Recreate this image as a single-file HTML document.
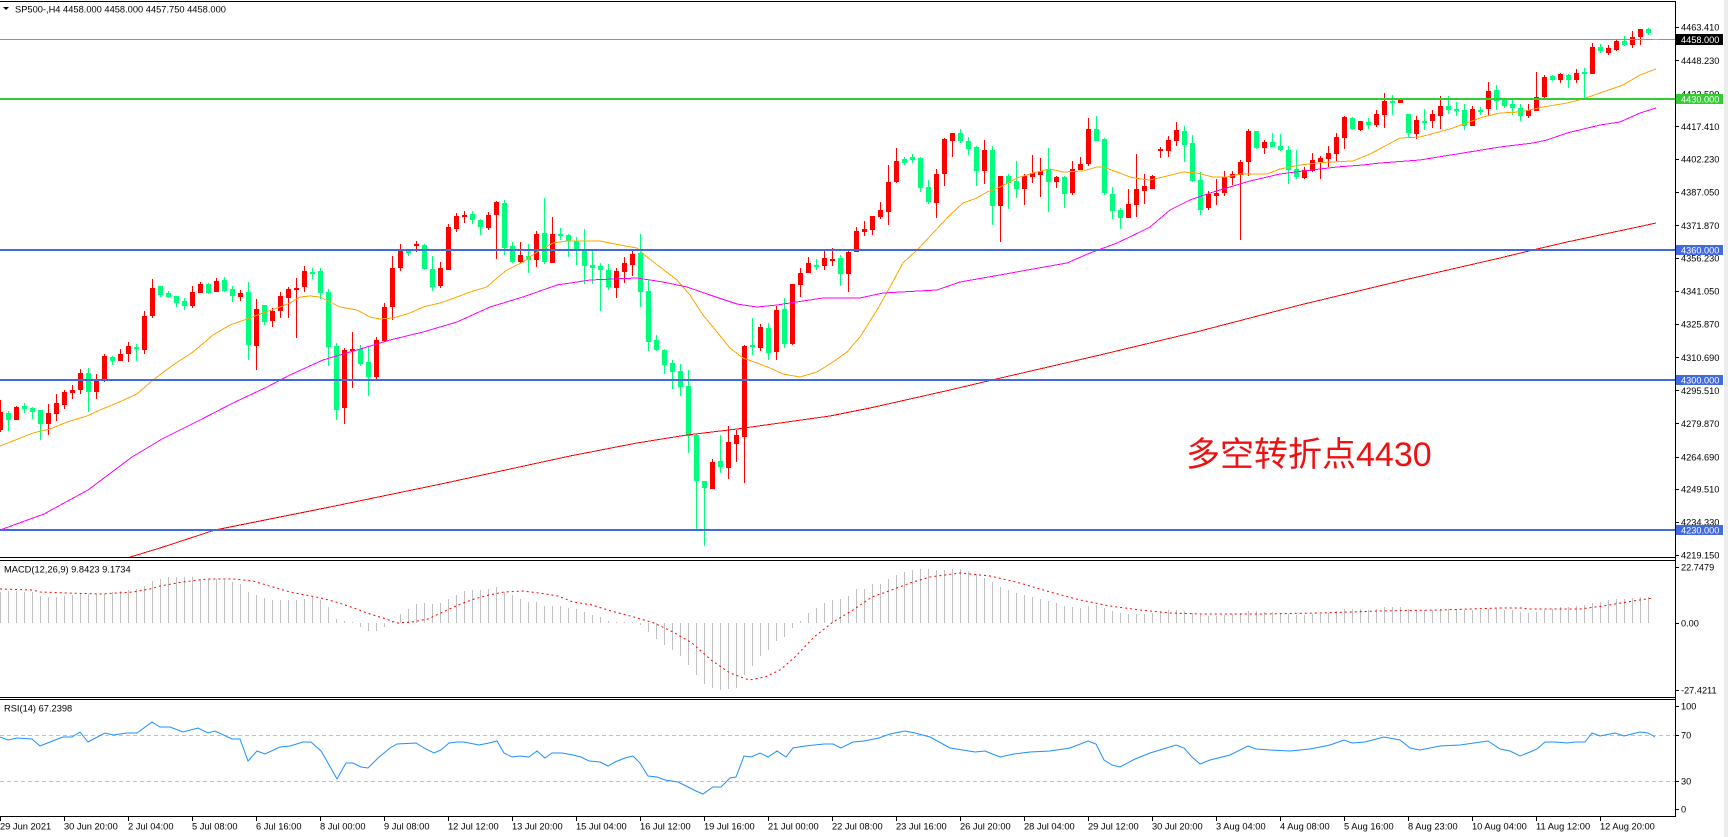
<!DOCTYPE html>
<html><head><meta charset="utf-8">
<style>
html,body{margin:0;padding:0;background:#fff;}
body{width:1728px;height:837px;overflow:hidden;}
svg{display:block;}
text{font-family:"Liberation Sans","Noto Sans CJK SC",sans-serif;}
</style></head>
<body>
<svg width="1728" height="837" viewBox="0 0 1728 837" xmlns="http://www.w3.org/2000/svg">
<defs>
<clipPath id="cm"><rect x="0" y="2" width="1675" height="555"/></clipPath>
<clipPath id="cmacd"><rect x="0" y="561" width="1675" height="135"/></clipPath>
<clipPath id="crsi"><rect x="0" y="700" width="1675" height="116"/></clipPath>
</defs>
<rect width="1728" height="837" fill="#fff"/>
<rect x="1724" y="0" width="4" height="837" fill="#ececec"/>

<!-- header -->
<polygon points="3,7 9,7 6,10" fill="#000"/>
<text x="15" y="12.6" font-size="9.3px" fill="#000">SP500-,H4  4458.000 4458.000 4457.750 4458.000</text>

<g clip-path="url(#cm)" shape-rendering="crispEdges">
<!-- red candles -->
<path fill="#ff0000" d="M-2 412h5v18h-5zM0 400h1v32h-1zM14 407h5v13h-5zM16 406h1v14h-1zM46 413h5v11h-5zM48 404h1v31h-1zM54 403h5v11h-5zM56 394h1v27h-1zM62 392h5v13h-5zM64 390h1v19h-1zM70 390h5v3h-5zM72 385h1v14h-1zM78 373h5v17h-5zM80 369h1v25h-1zM94 380h5v12h-5zM96 374h1v25h-1zM102 356h5v24h-5zM104 354h1v28h-1zM118 354h5v7h-5zM120 349h1v12h-1zM126 346h5v8h-5zM128 342h1v20h-1zM142 316h5v34h-5zM144 311h1v43h-1zM150 288h5v28h-5zM152 279h1v39h-1zM190 292h5v14h-5zM192 286h1v22h-1zM198 284h5v9h-5zM200 282h1v11h-1zM214 281h5v11h-5zM216 278h1v14h-1zM238 293h5v4h-5zM240 290h1v11h-1zM254 309h5v37h-5zM256 299h1v71h-1zM270 311h5v10h-5zM272 308h1v19h-1zM278 296h5v15h-5zM280 292h1v26h-1zM286 289h5v9h-5zM288 287h1v31h-1zM294 288h5v2h-5zM296 278h1v60h-1zM302 271h5v16h-5zM304 266h1v26h-1zM342 350h5v58h-5zM344 348h1v76h-1zM350 349h5v2h-5zM352 332h1v56h-1zM374 340h5v37h-5zM376 337h1v42h-1zM382 307h5v34h-5zM384 303h1v38h-1zM390 268h5v39h-5zM392 256h1v64h-1zM398 250h5v18h-5zM400 244h1v27h-1zM414 244h5v2h-5zM416 241h1v11h-1zM438 268h5v18h-5zM440 262h1v26h-1zM446 227h5v43h-5zM448 224h1v46h-1zM454 216h5v13h-5zM456 213h1v19h-1zM462 215h5v2h-5zM464 211h1v12h-1zM486 215h5v13h-5zM488 212h1v18h-1zM494 202h5v13h-5zM496 201h1v58h-1zM518 255h5v7h-5zM520 242h1v21h-1zM534 234h5v26h-5zM536 231h1v36h-1zM550 234h5v29h-5zM552 217h1v46h-1zM614 271h5v17h-5zM616 268h1v30h-1zM622 263h5v9h-5zM624 257h1v26h-1zM630 254h5v11h-5zM632 251h1v25h-1zM710 462h5v27h-5zM712 459h1v30h-1zM726 442h5v26h-5zM728 426h1v53h-1zM734 435h5v9h-5zM736 430h1v32h-1zM742 346h5v91h-5zM744 345h1v138h-1zM758 327h5v21h-5zM760 324h1v27h-1zM774 310h5v42h-5zM776 306h1v54h-1zM790 284h5v60h-5zM792 284h1v61h-1zM798 273h5v12h-5zM800 268h1v29h-1zM806 263h5v10h-5zM808 257h1v16h-1zM822 258h5v8h-5zM824 250h1v20h-1zM830 259h5v2h-5zM832 248h1v18h-1zM846 252h5v22h-5zM848 251h1v41h-1zM854 231h5v21h-5zM856 227h1v25h-1zM862 229h5v3h-5zM864 221h1v15h-1zM870 216h5v14h-5zM872 216h1v19h-1zM878 210h5v7h-5zM880 202h1v17h-1zM886 182h5v30h-5zM888 165h1v60h-1zM894 161h5v21h-5zM896 148h1v35h-1zM934 174h5v29h-5zM936 169h1v49h-1zM942 139h5v35h-5zM944 138h1v48h-1zM950 133h5v8h-5zM952 133h1v24h-1zM982 150h5v21h-5zM984 140h1v44h-1zM998 176h5v30h-5zM1000 176h1v66h-1zM1022 176h5v13h-5zM1024 174h1v31h-1zM1030 173h5v4h-5zM1032 155h1v28h-1zM1038 171h5v4h-5zM1040 158h1v39h-1zM1054 177h5v5h-5zM1056 176h1v12h-1zM1070 169h5v24h-5zM1072 161h1v34h-1zM1078 164h5v6h-5zM1080 157h1v13h-1zM1086 129h5v35h-5zM1088 118h1v48h-1zM1126 204h5v14h-5zM1128 189h1v29h-1zM1134 189h5v16h-5zM1136 154h1v63h-1zM1142 186h5v5h-5zM1144 174h1v30h-1zM1150 176h5v13h-5zM1152 175h1v14h-1zM1158 149h5v2h-5zM1160 147h1v11h-1zM1166 140h5v11h-5zM1168 136h1v21h-1zM1174 130h5v11h-5zM1176 122h1v24h-1zM1206 194h5v14h-5zM1208 191h1v19h-1zM1214 193h5v3h-5zM1216 179h1v26h-1zM1222 177h5v16h-5zM1224 171h1v25h-1zM1230 174h5v4h-5zM1232 171h1v14h-1zM1238 162h5v13h-5zM1240 160h1v80h-1zM1246 131h5v31h-5zM1248 129h1v47h-1zM1262 142h5v6h-5zM1264 140h1v14h-1zM1302 170h5v8h-5zM1304 167h1v12h-1zM1310 160h5v11h-5zM1312 153h1v19h-1zM1318 158h5v4h-5zM1320 156h1v23h-1zM1326 153h5v6h-5zM1328 146h1v21h-1zM1334 137h5v17h-5zM1336 133h1v29h-1zM1342 117h5v21h-5zM1344 116h1v33h-1zM1358 121h5v9h-5zM1360 121h1v10h-1zM1374 114h5v11h-5zM1376 110h1v17h-1zM1382 101h5v14h-5zM1384 93h1v35h-1zM1398 100h5v3h-5zM1400 99h1v4h-1zM1414 120h5v14h-5zM1416 116h1v23h-1zM1430 114h5v7h-5zM1432 110h1v18h-1zM1438 106h5v10h-5zM1440 96h1v33h-1zM1470 109h5v17h-5zM1472 106h1v20h-1zM1486 91h5v18h-5zM1488 82h1v34h-1zM1526 110h5v6h-5zM1528 104h1v14h-1zM1534 97h5v14h-5zM1536 72h1v39h-1zM1542 77h5v20h-5zM1544 75h1v23h-1zM1558 74h5v6h-5zM1560 73h1v10h-1zM1574 73h5v7h-5zM1576 69h1v14h-1zM1590 47h5v27h-5zM1592 43h1v31h-1zM1606 48h5v5h-5zM1608 45h1v10h-1zM1614 41h5v9h-5zM1616 39h1v12h-1zM1630 37h5v8h-5zM1632 31h1v17h-1zM1638 29h5v8h-5zM1640 29h1v16h-1z"/>
<!-- green candles -->
<path fill="#00ff7f" d="M6 413h5v7h-5zM8 411h1v20h-1zM22 406h5v3h-5zM24 403h1v10h-1zM30 408h5v4h-5zM32 407h1v12h-1zM38 410h5v14h-5zM40 410h1v30h-1zM86 373h5v19h-5zM88 368h1v44h-1zM110 357h5v4h-5zM112 356h1v9h-1zM134 347h5v2h-5zM136 344h1v17h-1zM158 286h5v9h-5zM160 286h1v11h-1zM166 293h5v4h-5zM168 291h1v7h-1zM174 296h5v7h-5zM176 296h1v11h-1zM182 301h5v5h-5zM184 298h1v12h-1zM206 284h5v9h-5zM208 283h1v11h-1zM222 280h5v11h-5zM224 277h1v15h-1zM230 289h5v7h-5zM232 286h1v16h-1zM246 292h5v53h-5zM248 282h1v78h-1zM262 305h5v17h-5zM264 305h1v20h-1zM310 272h5v2h-5zM312 268h1v11h-1zM318 271h5v22h-5zM320 268h1v31h-1zM326 292h5v55h-5zM328 289h1v77h-1zM334 346h5v64h-5zM336 343h1v77h-1zM358 349h5v15h-5zM360 345h1v21h-1zM366 362h5v15h-5zM368 347h1v49h-1zM406 250h5v3h-5zM408 249h1v7h-1zM422 245h5v24h-5zM424 244h1v26h-1zM430 269h5v18h-5zM432 256h1v35h-1zM470 214h5v6h-5zM472 211h1v13h-1zM478 220h5v7h-5zM480 219h1v16h-1zM502 203h5v45h-5zM504 200h1v55h-1zM510 246h5v16h-5zM512 242h1v21h-1zM526 256h5v4h-5zM528 244h1v29h-1zM542 233h5v29h-5zM544 198h1v66h-1zM558 234h5v2h-5zM560 228h1v12h-1zM566 235h5v6h-5zM568 234h1v23h-1zM574 241h5v9h-5zM576 237h1v28h-1zM582 250h5v16h-5zM584 229h1v55h-1zM590 265h5v3h-5zM592 250h1v34h-1zM598 266h5v4h-5zM600 263h1v48h-1zM606 270h5v17h-5zM608 264h1v26h-1zM638 253h5v39h-5zM640 234h1v73h-1zM646 291h5v51h-5zM648 280h1v71h-1zM654 340h5v10h-5zM656 335h1v16h-1zM662 350h5v15h-5zM664 349h1v25h-1zM670 363h5v9h-5zM672 360h1v29h-1zM678 371h5v16h-5zM680 364h1v32h-1zM686 386h5v50h-5zM688 370h1v83h-1zM694 435h5v46h-5zM696 434h1v96h-1zM702 481h5v7h-5zM704 481h1v65h-1zM718 461h5v6h-5zM720 435h1v38h-1zM750 345h5v2h-5zM752 318h1v37h-1zM766 328h5v25h-5zM768 323h1v37h-1zM782 309h5v35h-5zM784 298h1v50h-1zM814 265h5v2h-5zM816 259h1v11h-1zM838 258h5v16h-5zM840 255h1v31h-1zM902 159h5v4h-5zM904 157h1v8h-1zM910 157h5v3h-5zM912 154h1v9h-1zM918 158h5v30h-5zM920 157h1v35h-1zM926 187h5v15h-5zM928 180h1v24h-1zM958 133h5v8h-5zM960 129h1v14h-1zM966 141h5v8h-5zM968 137h1v18h-1zM974 147h5v24h-5zM976 146h1v40h-1zM990 150h5v56h-5zM992 146h1v79h-1zM1006 176h5v7h-5zM1008 174h1v35h-1zM1014 181h5v8h-5zM1016 161h1v37h-1zM1046 169h5v13h-5zM1048 148h1v64h-1zM1062 177h5v17h-5zM1064 176h1v32h-1zM1094 129h5v12h-5zM1096 116h1v25h-1zM1102 139h5v54h-5zM1104 138h1v57h-1zM1110 194h5v17h-5zM1112 187h1v32h-1zM1118 210h5v8h-5zM1120 208h1v21h-1zM1182 131h5v14h-5zM1184 126h1v36h-1zM1190 143h5v38h-5zM1192 135h1v47h-1zM1198 180h5v30h-5zM1200 172h1v43h-1zM1254 131h5v17h-5zM1256 131h1v18h-1zM1270 142h5v5h-5zM1272 133h1v14h-1zM1278 146h5v4h-5zM1280 134h1v17h-1zM1286 150h5v20h-5zM1288 146h1v38h-1zM1294 169h5v8h-5zM1296 150h1v29h-1zM1350 118h5v11h-5zM1352 117h1v13h-1zM1366 122h5v3h-5zM1368 118h1v11h-1zM1390 101h5v2h-5zM1392 95h1v20h-1zM1406 114h5v19h-5zM1408 114h1v23h-1zM1422 121h5v2h-5zM1424 109h1v21h-1zM1446 106h5v4h-5zM1448 96h1v18h-1zM1454 109h5v2h-5zM1456 102h1v14h-1zM1462 110h5v16h-5zM1464 104h1v26h-1zM1478 110h5v2h-5zM1480 107h1v8h-1zM1494 90h5v11h-5zM1496 85h1v25h-1zM1502 100h5v6h-5zM1504 98h1v10h-1zM1510 104h5v4h-5zM1512 99h1v16h-1zM1518 108h5v8h-5zM1520 104h1v17h-1zM1550 76h5v4h-5zM1552 75h1v6h-1zM1566 75h5v5h-5zM1568 74h1v14h-1zM1582 72h5v2h-5zM1584 68h1v31h-1zM1598 47h5v4h-5zM1600 44h1v9h-1zM1622 41h5v4h-5zM1624 36h1v10h-1zM1646 29h5v4h-5zM1648 28h1v7h-1z"/>

<!-- moving averages -->
<polyline fill="none" stroke="#ffa500" stroke-width="1" points="0,446 18,439 33,433 50,429 67,422 87,416 100,410 117,403 137,394 153,380 173,365 193,352 213,335 230,325 247,319 263,313 280,307 290,303 300,297 310,296 320,297 330,302 340,307 357,310 370,317 380,319 393,318 410,313 423,307 440,303 457,297 473,291 487,287 497,278 507,270 523,262 537,252 553,243 567,241 580,241 600,241 620,245 637,248 647,257 660,267 677,280 690,295 703,315 717,332 730,348 743,358 757,363 770,368 783,374 800,377 817,372 833,362 847,352 860,337 877,310 890,287 903,263 917,250 933,233 950,215 963,203 977,198 987,192 1000,187 1017,178 1033,173 1050,169 1063,172 1083,171 1097,167 1103,167 1117,172 1130,177 1140,179 1150,180 1163,177 1183,172 1197,173 1213,177 1227,177 1240,174 1253,174 1267,174 1280,169 1300,165 1317,163 1330,162 1353,161 1370,154 1387,145 1400,138 1420,137 1450,129 1483,117 1500,113 1520,112 1543,107 1567,103 1583,99 1600,93 1623,85 1640,75 1656,69"/>
<polyline fill="none" stroke="#ff00ff" stroke-width="1" points="0,530 44,514 88,490 132,457 162,439 200,420 233,403 267,387 290,375 323,360 357,350 390,340 423,332 457,322 490,307 523,297 557,285 590,280 637,278 663,282 687,287 710,295 737,304 757,307 777,305 803,301 823,298 860,298 883,293 937,290 960,282 1000,275 1033,269 1067,263 1090,253 1117,243 1140,232 1150,227 1170,210 1190,200 1210,193 1230,187 1250,181 1280,174 1303,171 1337,167 1363,165 1380,163 1420,160 1500,147 1533,143 1547,140 1567,133 1600,125 1620,122 1640,113 1656,108"/>
<polyline fill="none" stroke="#ff0000" stroke-width="1" points="124,559 127,558 160,548 215,530 330,507 441,484 570,456 637,443 687,435 737,429 787,422 830,416 870,408 910,399 950,390 992,380 1100,355 1200,331 1300,305 1400,281 1500,258 1537,249 1567,242 1600,235 1633,228 1656,223"/>

<!-- horizontal lines -->
<rect x="0" y="39" width="1675" height="1" fill="#8a929a"/>
<rect x="1653" y="39" width="6" height="1" fill="#00ff7f"/>
<rect x="0" y="98" width="1675" height="2" fill="#32cd32"/>
<rect x="0" y="249" width="1675" height="2" fill="#4169e1"/>
<rect x="0" y="379" width="1675" height="2" fill="#4169e1"/>
<rect x="0" y="529" width="1675" height="2" fill="#4169e1"/>
</g>

<!-- annotation -->
<text x="1186" y="466" font-size="34px" fill="#ee1111" font-family="'Liberation Sans','Noto Sans CJK SC',sans-serif">多空转折点4430</text>

<!-- frame lines -->
<g shape-rendering="crispEdges" fill="#000">
<rect x="0" y="1" width="1675" height="1"/>
<rect x="1675" y="1" width="1" height="816"/>
<rect x="0" y="557" width="1676" height="1"/>
<rect x="0" y="560" width="1676" height="1"/>
<rect x="0" y="697" width="1676" height="1"/>
<rect x="0" y="699" width="1676" height="1"/>
<rect x="0" y="816" width="1676" height="1"/>
</g>

<!-- right axis ticks -->
<path shape-rendering="crispEdges" stroke="#000" stroke-width="1" d="M1676 27.5h3M1676 60.5h3M1676 126.5h3M1676 159.5h3M1676 192.5h3M1676 225.5h3M1676 258.5h3M1676 291.5h3M1676 324.5h3M1676 357.5h3M1676 390.5h3M1676 423.5h3M1676 457.5h3M1676 489.5h3M1676 522.5h3M1676 555.5h3M1676 567.5h3M1676 623.5h3M1676 690.5h3M1676 706.5h3M1676 735.5h3M1676 781.5h3M1676 809.5h3"/>

<!-- right axis labels -->
<g font-size="9.2px" fill="#000">
<text x="1681" y="30.6">4463.410</text>
<text x="1681" y="64">4448.230</text>
<text x="1681" y="97.3">4432.590</text>
<text x="1681" y="130">4417.410</text>
<text x="1681" y="162.6">4402.230</text>
<text x="1681" y="195.6">4387.050</text>
<text x="1681" y="229">4371.870</text>
<text x="1681" y="261.6">4356.230</text>
<text x="1681" y="294.6">4341.050</text>
<text x="1681" y="327.6">4325.870</text>
<text x="1681" y="361">4310.690</text>
<text x="1681" y="394">4295.510</text>
<text x="1681" y="427">4279.870</text>
<text x="1681" y="460.3">4264.690</text>
<text x="1681" y="492.6">4249.510</text>
<text x="1681" y="525.6">4234.330</text>
<text x="1681" y="558.6">4219.150</text>
<text x="1681" y="570.5">22.7479</text>
<text x="1681" y="626.5">0.00</text>
<text x="1681" y="693.5">-27.4211</text>
<text x="1681" y="709.5">100</text>
<text x="1681" y="738.5">70</text>
<text x="1681" y="784.5">30</text>
<text x="1681" y="812.5">0</text>
</g>

<!-- price boxes -->
<g shape-rendering="crispEdges">
<rect x="1676" y="34" width="47" height="11" fill="#000"/>
<rect x="1676" y="94" width="47" height="10" fill="#32cd32"/>
<rect x="1676" y="245" width="47" height="10" fill="#4169e1"/>
<rect x="1676" y="375" width="47" height="10" fill="#4169e1"/>
<rect x="1676" y="525" width="47" height="10" fill="#4169e1"/>
</g>
<g font-size="9.2px" fill="#fff">
<text x="1681" y="42.8">4458.000</text>
<text x="1681" y="102.3">4430.000</text>
<text x="1681" y="253.3">4360.000</text>
<text x="1681" y="383.3">4300.000</text>
<text x="1681" y="533.3">4230.000</text>
</g>

<!-- MACD -->
<text x="4" y="572.5" font-size="9.3px" fill="#000">MACD(12,26,9) 9.8423 9.1734</text>
<g clip-path="url(#cmacd)">
<path shape-rendering="crispEdges" fill="none" stroke="#c0c0c0" stroke-width="1" d="M0.5 623V592M8.5 623V591M16.5 623V591M24.5 623V592M32.5 623V592M40.5 623V596M48.5 623V597M56.5 623V597M64.5 623V596M72.5 623V595M80.5 623V594M88.5 623V594M96.5 623V594M104.5 623V594M112.5 623V592M120.5 623V591M128.5 623V590M136.5 623V589M144.5 623V586M152.5 623V581M160.5 623V579M168.5 623V577M176.5 623V577M184.5 623V577M192.5 623V577M200.5 623V579M208.5 623V579M216.5 623V579M224.5 623V580M232.5 623V582M240.5 623V584M248.5 623V592M256.5 623V595M264.5 623V598M272.5 623V600M280.5 623V600M288.5 623V600M296.5 623V600M304.5 623V599M312.5 623V597M320.5 623V600M328.5 623V607M336.5 623V619M344.5 623V621M352.5 623V622M360.5 623V627M368.5 623V631M376.5 623V631M384.5 623V627M392.5 623V621M400.5 623V614M408.5 623V609M416.5 623V604M424.5 623V603M432.5 623V604M440.5 623V603M448.5 623V599M456.5 623V595M464.5 623V591M472.5 623V590M480.5 623V590M488.5 623V589M496.5 623V587M504.5 623V592M512.5 623V595M520.5 623V599M528.5 623V602M536.5 623V602M544.5 623V606M552.5 623V606M560.5 623V606M568.5 623V608M576.5 623V609M584.5 623V612M592.5 623V615M600.5 623V617M608.5 623V621M616.5 623V622M624.5 623V622M632.5 623V622M640.5 623V625M648.5 623V632M656.5 623V639M664.5 623V645M672.5 623V650M680.5 623V656M688.5 623V665M696.5 623V675M704.5 623V684M712.5 623V688M720.5 623V690M728.5 623V689M736.5 623V688M744.5 623V675M752.5 623V666M760.5 623V656M768.5 623V650M776.5 623V641M784.5 623V637M792.5 623V628M800.5 623V621M808.5 623V613M816.5 623V608M824.5 623V603M832.5 623V600M840.5 623V599M848.5 623V596M856.5 623V589M864.5 623V589M872.5 623V584M880.5 623V584M888.5 623V579M896.5 623V575M904.5 623V572M912.5 623V570M920.5 623V569M928.5 623V569M936.5 623V570M944.5 623V570M952.5 623V569M960.5 623V569M968.5 623V571M976.5 623V574M984.5 623V578M992.5 623V582M1000.5 623V587M1008.5 623V590M1016.5 623V593M1024.5 623V595M1032.5 623V597M1040.5 623V599M1048.5 623V601M1056.5 623V603M1064.5 623V606M1072.5 623V607M1080.5 623V608M1088.5 623V606M1096.5 623V605M1104.5 623V608M1112.5 623V611M1120.5 623V613M1128.5 623V614M1136.5 623V614M1144.5 623V614M1152.5 623V613M1160.5 623V611M1168.5 623V610M1176.5 623V610M1184.5 623V611M1192.5 623V613M1200.5 623V615M1208.5 623V616M1216.5 623V616M1224.5 623V615M1232.5 623V614M1240.5 623V613M1248.5 623V611M1256.5 623V611M1264.5 623V612M1272.5 623V612M1280.5 623V613M1288.5 623V614M1296.5 623V615M1304.5 623V615M1312.5 623V614M1320.5 623V614M1328.5 623V613M1336.5 623V611M1344.5 623V609M1352.5 623V609M1360.5 623V609M1368.5 623V610M1376.5 623V609M1384.5 623V607M1392.5 623V607M1400.5 623V607M1408.5 623V609M1416.5 623V610M1424.5 623V610M1432.5 623V610M1440.5 623V609M1448.5 623V609M1456.5 623V609M1464.5 623V610M1472.5 623V610M1480.5 623V610M1488.5 623V609M1496.5 623V609M1504.5 623V610M1512.5 623V610M1520.5 623V612M1528.5 623V613M1536.5 623V612M1544.5 623V610M1552.5 623V609M1560.5 623V607M1568.5 623V607M1576.5 623V606M1584.5 623V605M1592.5 623V603M1600.5 623V602M1608.5 623V600M1616.5 623V599M1624.5 623V599M1632.5 623V598M1640.5 623V597M1648.5 623V597"/>
<polyline fill="none" stroke="#ff0000" stroke-width="1" stroke-dasharray="2,3" points="0,589 33,590 40,592 67,593 100,594 117,593 133,592 150,589 160,586 183,582 207,579 233,579 253,581 273,587 290,592 321,598 336,602 351,607 367,613 386,619 397,623 412,622 428,619 443,612 458,605 474,599 489,595 504,592 523,591 539,593 558,596 573,602 592,605 611,611 634,617 654,623 673,632 692,643 711,660 730,673 749,680 765,677 780,670 795,657 814,637 833,622 853,610 872,597 889,591 910,583 930,577 960,573 990,576 1020,583 1050,592 1080,600 1110,606 1140,610 1170,613 1200,614 1260,614 1320,613 1380,611 1440,610 1500,608 1523,608 1527,609 1580,609 1603,606 1633,601 1653,598"/>
</g>

<!-- RSI -->
<text x="4" y="711.5" font-size="9.3px" fill="#000">RSI(14) 67.2398</text>
<g clip-path="url(#crsi)">
<line x1="0" y1="735.5" x2="1675" y2="735.5" stroke="#c0c0c0" stroke-width="1" stroke-dasharray="4,3"/>
<line x1="0" y1="781.5" x2="1675" y2="781.5" stroke="#c0c0c0" stroke-width="1" stroke-dasharray="4,3"/>
<polyline fill="none" stroke="#1e90ff" stroke-width="1" points="0,737 8,740 17,738 32,739 40,746 50,742 63,737 72,737 80,732 88,742 105,733 113,735 127,733 137,733 152,722 160,727 170,727 183,732 198,728 208,733 215,731 232,739 240,739 248,761 257,751 265,754 280,747 290,746 303,742 311,742 321,751 328,763 337,779 346,763 353,763 361,767 368,768 378,758 390,748 397,744 416,743 424,748 434,753 441,750 449,743 458,742 464,742 479,745 489,743 497,741 504,753 512,757 520,756 529,757 537,751 545,758 552,753 562,753 573,755 581,757 589,761 600,762 608,766 615,762 625,758 633,756 640,763 648,776 657,777 665,780 678,782 688,787 696,791 703,794 713,787 721,787 730,778 736,777 744,756 751,757 760,753 768,757 777,751 786,757 793,748 805,746 824,744 833,744 841,748 853,742 864,741 879,738 890,734 905,731 915,733 930,737 950,748 975,752 985,751 1000,757 1014,754 1030,752 1050,751 1070,748 1088,741 1096,744 1104,760 1112,765 1120,767 1135,759 1150,753 1176,745 1184,748 1192,757 1200,764 1210,760 1230,755 1248,746 1256,749 1270,750 1290,751 1310,749 1330,745 1344,740 1352,743 1365,742 1384,737 1400,740 1410,748 1420,750 1440,746 1460,745 1488,741 1500,749 1510,751 1520,756 1530,752 1537,749 1545,742 1555,742 1567,743 1575,742 1585,742 1592,733 1600,736 1615,733 1624,736 1640,732 1648,733 1655,737"/>
</g>

<!-- time axis ticks -->
<path shape-rendering="crispEdges" stroke="#000" stroke-width="1" d="M0.5 817v4M64.5 817v4M128.5 817v4M192.5 817v4M256.5 817v4M320.5 817v4M384.5 817v4M448.5 817v4M512.5 817v4M576.5 817v4M640.5 817v4M704.5 817v4M768.5 817v4M832.5 817v4M896.5 817v4M960.5 817v4M1024.5 817v4M1088.5 817v4M1152.5 817v4M1216.5 817v4M1280.5 817v4M1344.5 817v4M1408.5 817v4M1472.5 817v4M1536.5 817v4M1600.5 817v4"/>
<g font-size="9.3px" fill="#000">
<text x="0" y="829.5">29 Jun 2021</text>
<text x="64" y="829.5">30 Jun 20:00</text>
<text x="128" y="829.5">2 Jul 04:00</text>
<text x="192" y="829.5">5 Jul 08:00</text>
<text x="256" y="829.5">6 Jul 16:00</text>
<text x="320" y="829.5">8 Jul 00:00</text>
<text x="384" y="829.5">9 Jul 08:00</text>
<text x="448" y="829.5">12 Jul 12:00</text>
<text x="512" y="829.5">13 Jul 20:00</text>
<text x="576" y="829.5">15 Jul 04:00</text>
<text x="640" y="829.5">16 Jul 12:00</text>
<text x="704" y="829.5">19 Jul 16:00</text>
<text x="768" y="829.5">21 Jul 00:00</text>
<text x="832" y="829.5">22 Jul 08:00</text>
<text x="896" y="829.5">23 Jul 16:00</text>
<text x="960" y="829.5">26 Jul 20:00</text>
<text x="1024" y="829.5">28 Jul 04:00</text>
<text x="1088" y="829.5">29 Jul 12:00</text>
<text x="1152" y="829.5">30 Jul 20:00</text>
<text x="1216" y="829.5">3 Aug 04:00</text>
<text x="1280" y="829.5">4 Aug 08:00</text>
<text x="1344" y="829.5">5 Aug 16:00</text>
<text x="1408" y="829.5">8 Aug 23:00</text>
<text x="1472" y="829.5">10 Aug 04:00</text>
<text x="1536" y="829.5">11 Aug 12:00</text>
<text x="1600" y="829.5">12 Aug 20:00</text>
</g>
</svg>
</body></html>
